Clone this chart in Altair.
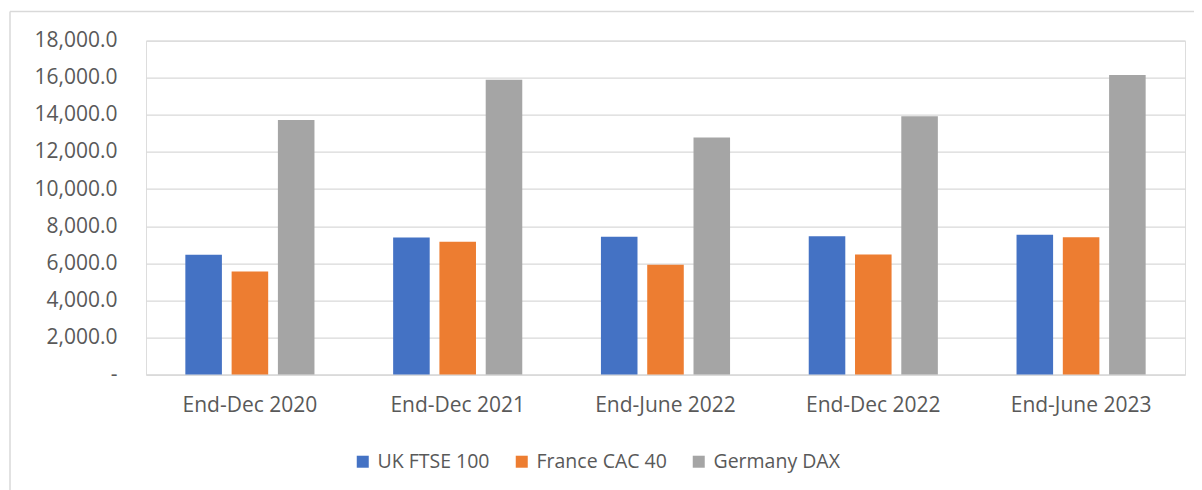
import altair as alt
import pandas as pd

categories = ["End-Dec 2020", "End-Dec 2021", "End-June 2022", "End-Dec 2022", "End-June 2023"]
series = ["UK FTSE 100", "France CAC 40", "Germany DAX"]
uk_ftse = [6460.5, 7384.5, 7435.0, 7451.7, 7531.5]
fr_cac = [5551.4, 7153.0, 5922.9, 6473.8, 7400.0]
de_dax = [13718.8, 15884.9, 12783.8, 13923.6, 16147.9]
colors = ["#4472C4", "#ED7D31", "#A5A5A5"]
y_ticks = [0, 2000, 4000, 6000, 8000, 10000, 12000, 14000, 16000, 18000]

rows = []
for name, vals in zip(series, [uk_ftse, fr_cac, de_dax]):
    for c, v in zip(categories, vals):
        rows.append({"period": c, "index": name, "value": v})
df = pd.DataFrame(rows)

FONT = "Open Sans"
TXT = "#595959"
GRID = "#D9D9D9"

bars = alt.Chart(df).mark_bar().encode(
    x=alt.X("period:N", sort=categories, title=None,
            scale=alt.Scale(paddingInner=0, paddingOuter=0),
            axis=alt.Axis(labelAngle=0, labelFontSize=21, labelFont=FONT, labelColor=TXT,
                          labelPadding=20, ticks=False, domainColor=GRID, domainWidth=1.3,
                          grid=False)),
    xOffset=alt.XOffset("index:N", sort=series,
                        scale=alt.Scale(paddingInner=0.21, paddingOuter=0.85)),
    y=alt.Y("value:Q", title=None,
            scale=alt.Scale(domain=[0, 18000], nice=False),
            axis=alt.Axis(values=y_ticks, labelFontSize=21, labelFont=FONT, labelColor=TXT,
                          labelPadding=29, ticks=False, domain=False, gridColor=GRID,
                          gridWidth=1.3,
                          labelExpr="datum.value == 0 ? '-\u00a0' : format(datum.value, ',.1f')")),
    color=alt.Color("index:N", sort=series,
                    scale=alt.Scale(domain=series, range=colors),
                    legend=alt.Legend(title=None, orient="none", direction="horizontal",
                                      legendX=207, legendY=411, symbolType="square",
                                      symbolSize=144, symbolStrokeWidth=0,
                                      labelFontSize=19.5, labelFont=FONT, labelColor=TXT,
                                      labelOffset=5, columnPadding=22)),
)

frame_data = alt.Data(values=[{"k": 1}])
top_line = alt.Chart(frame_data).mark_rule(color=GRID, strokeWidth=1.5).encode(
    x=alt.value(-136), x2=alt.value(1060), y=alt.value(-29))
left_line = alt.Chart(frame_data).mark_rule(color=GRID, strokeWidth=1.5).encode(
    x=alt.value(-136), y=alt.value(-29), y2=alt.value(500))

chart = alt.layer(bars, top_line, left_line).properties(
    width=1039, height=334,
    autosize=alt.AutoSizeParams(type="none"),
    padding={"left": 138, "top": 32.6, "right": 9, "bottom": 120},
).configure_view(stroke=None).configure(background="white")

chart.save("out.html", embed_options={"renderer": "svg", "actions": False})
